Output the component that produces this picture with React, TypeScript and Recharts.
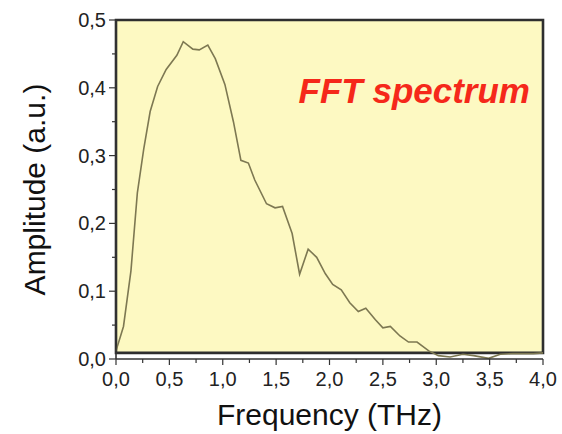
import React from 'react';
import { LineChart, Line, XAxis, YAxis, ReferenceArea, Label } from 'recharts';

const freqs = [0.00, 0.07, 0.14, 0.20, 0.26, 0.32, 0.39, 0.47, 0.57, 0.63, 0.72, 0.78, 0.86, 0.93, 1.02, 1.10, 1.17, 1.24, 1.30, 1.41, 1.49, 1.56, 1.65, 1.72, 1.80, 1.88, 1.96, 2.03, 2.11, 2.19, 2.27, 2.34, 2.43, 2.50, 2.57, 2.66, 2.74, 2.82, 2.93, 3.02, 3.13, 3.25, 3.35, 3.49, 3.60, 3.72, 3.91, 4.00];
const amps = [0.012, 0.048, 0.13, 0.245, 0.31, 0.365, 0.402, 0.427, 0.448, 0.468, 0.457, 0.456, 0.463, 0.443, 0.405, 0.35, 0.293, 0.289, 0.264, 0.229, 0.223, 0.225, 0.185, 0.125, 0.162, 0.150, 0.126, 0.110, 0.102, 0.083, 0.070, 0.075, 0.058, 0.046, 0.048, 0.034, 0.025, 0.025, 0.012, 0.005, 0.003, 0.007, 0.005, 0.001, 0.007, 0.008, 0.008, 0.009];

const xTicks = [0, 0.25, 0.5, 0.75, 1, 1.25, 1.5, 1.75, 2, 2.25, 2.5, 2.75, 3, 3.25, 3.5, 3.75, 4];
const yTicks = [0, 0.05, 0.1, 0.15, 0.2, 0.25, 0.3, 0.35, 0.4, 0.45, 0.5];
const xTitle = 'Frequency (THz)';
const yTitle = 'Amplitude (a.u.)';
const chartTitle = 'FFT spectrum';

const data = freqs.map((f, i) => ({ f, amp: amps[i] }));

const FONT = '"Liberation Sans", Arial, sans-serif';
const fmt = (v: number) => v.toFixed(1).replace('.', ',');
const isMajorX = (v: number) => Math.abs(v * 2 - Math.round(v * 2)) < 1e-6;
const isMajorY = (v: number) => Math.abs(v * 10 - Math.round(v * 10)) < 1e-6;

const BottomTick = (props: any) => {
  const { x, y, payload } = props;
  const v = payload.value;
  const major = isMajorX(v);
  return (
    <g>
      <line x1={x} x2={x} y1={y} y2={y + (major ? 6 : 4)} stroke="#333" strokeWidth={1.2} />
      {major && (
        <text x={x} y={y + 27} textAnchor="middle" fontSize={20} fontFamily={FONT} fill="#222">
          {fmt(v)}
        </text>
      )}
    </g>
  );
};

const LeftTick = (props: any) => {
  const { x, y, payload } = props;
  const v = payload.value;
  const major = isMajorY(v);
  return (
    <g>
      <line x1={x} x2={x - (major ? 7 : 4)} y1={y} y2={y} stroke="#333" strokeWidth={1.2} />
      {major && (
        <text x={x - 10} y={y + 7} textAnchor="end" fontSize={20} fontFamily={FONT} fill="#222">
          {fmt(v)}
        </text>
      )}
    </g>
  );
};

const TopTick = (props: any) => {
  const { x, y } = props;
  return <line x1={x} x2={x} y1={y - 3} y2={y + 3} stroke="#333" strokeWidth={1.4} />;
};

const RightTick = (props: any) => {
  const { x, y } = props;
  return <line x1={x - 4} x2={x + 3} y1={y} y2={y} stroke="#333" strokeWidth={1.4} />;
};

export default function App() {
  return (
    <div style={{ position: 'absolute', left: 0, top: 0 }}>
      <LineChart width={562} height={434} data={data} margin={{ top: 20, right: 19, bottom: 0, left: 0 }}>
        <XAxis
          xAxisId="bottom"
          dataKey="f"
          type="number"
          domain={[0, 4]}
          ticks={xTicks}
          interval={0}
          tickSize={0}
          tickMargin={0}
          tickLine={false}
          tick={<BottomTick />}
          height={75}
          axisLine={{ stroke: '#333', strokeWidth: 1.4 }}
        >
          <Label
            content={(p: any) => {
              const vb = p.viewBox;
              return (
                <text x={vb.x + vb.width / 2} y={vb.y + 66} textAnchor="middle" fontSize={30} fontFamily={FONT} fill="#111">
                  {xTitle}
                </text>
              );
            }}
          />
        </XAxis>
        <XAxis
          xAxisId="top"
          orientation="top"
          dataKey="f"
          type="number"
          domain={[0, 4]}
          ticks={xTicks}
          interval={0}
          tickSize={0}
          tickMargin={0}
          tickLine={false}
          tick={<TopTick />}
          height={0}
          axisLine={false}
        />
        <YAxis
          yAxisId="left"
          type="number"
          domain={[0, 0.5]}
          ticks={yTicks}
          interval={0}
          tickSize={0}
          tickMargin={0}
          tickLine={false}
          tick={<LeftTick />}
          width={116}
          axisLine={{ stroke: '#333', strokeWidth: 1.6 }}
        >
          <Label
            content={(p: any) => {
              const vb = p.viewBox;
              const cx = vb.x + 45;
              const cy = vb.y + vb.height / 2;
              return (
                <text x={cx} y={cy} transform={`rotate(-90, ${cx}, ${cy})`} textAnchor="middle" fontSize={30} fontFamily={FONT} fill="#111">
                  {yTitle}
                </text>
              );
            }}
          />
        </YAxis>
        <YAxis
          yAxisId="right"
          orientation="right"
          type="number"
          domain={[0, 0.5]}
          ticks={yTicks}
          interval={0}
          tickSize={0}
          tickMargin={0}
          tickLine={false}
          tick={<RightTick />}
          width={0}
          axisLine={false}
        />
        <ReferenceArea
          xAxisId="bottom"
          yAxisId="left"
          x1={0}
          x2={4}
          y1={0.009}
          y2={0.5}
          fill="#fdf9c2"
          fillOpacity={1}
          stroke="#2e2e2e"
          strokeWidth={2.6}
        >
          <Label
            content={(p: any) => {
              const vb = p.viewBox;
              return (
                <text
                  x={vb.x + vb.width - 13}
                  y={vb.y + 83}
                  textAnchor="end"
                  fontSize={35}
                  fontWeight="bold"
                  fontStyle="italic"
                  fontFamily={FONT}
                  fill="#f5281a"
                >
                  {chartTitle}
                </text>
              );
            }}
          />
        </ReferenceArea>
        <Line
          xAxisId="top"
          yAxisId="right"
          dataKey="amp"
          stroke="none"
          dot={false}
          activeDot={false}
          isAnimationActive={false}
          legendType="none"
        />
        <Line
          xAxisId="bottom"
          yAxisId="left"
          dataKey="amp"
          type="linear"
          stroke="#7d7852"
          strokeWidth={1.6}
          dot={false}
          activeDot={false}
          isAnimationActive={false}
        />
      </LineChart>
    </div>
  );
}
